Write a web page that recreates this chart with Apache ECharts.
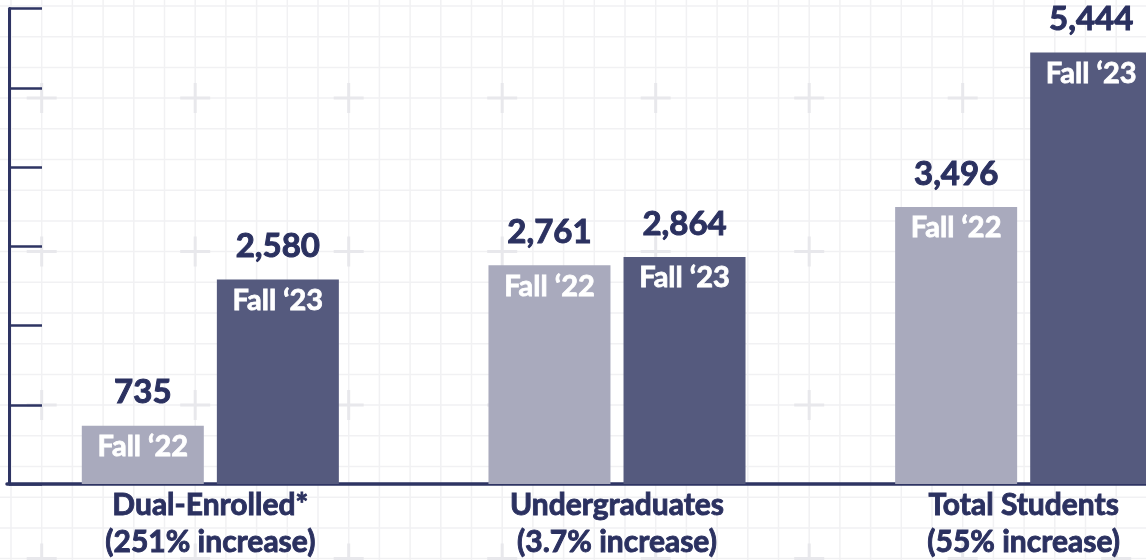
<!DOCTYPE html>
<html>
<head>
<meta charset="utf-8">
<script src="https://cdn.jsdelivr.net/npm/echarts@6/dist/echarts.min.js"></script>
<style>
  html, body { margin: 0; padding: 0; background: #fff; }
  #chart { width: 1146px; height: 560px; }
</style>
</head>
<body>
<div id="chart"></div>
<script>
const categories = ["Dual-Enrolled*", "Undergraduates", "Total Students"];
const increaseNotes = ["(251% increase)", "(3.7% increase)", "(55% increase)"];
const seriesNames = ["Fall \u201822", "Fall \u201823"];
const fall22 = [735, 2761, 3496];
const fall23 = [2580, 2864, 5444];
const yTicks = { min: 0, max: 6000, interval: 1000 };

const navy = "#2b3160";

// faint graph-paper background with plus marks
const makeBackground = () => {
  const c = document.createElement("canvas");
  c.width = 1146;
  c.height = 560;
  const ctx = c.getContext("2d");
  ctx.fillStyle = "#fff";
  ctx.fillRect(0, 0, c.width, c.height);
  const step = 30.7;
  const ox = 41.7 - step * 2, oy = 98.1 - step * 3;
  ctx.strokeStyle = "#f1f1f3";
  ctx.lineWidth = 1.5;
  for (let x = ox; x < c.width; x += step) {
    ctx.beginPath(); ctx.moveTo(x, 0); ctx.lineTo(x, c.height); ctx.stroke();
  }
  for (let y = oy; y < c.height; y += step) {
    ctx.beginPath(); ctx.moveTo(0, y); ctx.lineTo(c.width, y); ctx.stroke();
  }
  ctx.strokeStyle = "#e8e8ec";
  ctx.lineWidth = 3;
  for (let x = 41.7; x < c.width + 20; x += step * 5) {
    for (let y = 98.1 - step * 5; y < c.height + 20; y += step * 5) {
      ctx.beginPath();
      ctx.moveTo(x - 15, y); ctx.lineTo(x + 15, y);
      ctx.moveTo(x, y - 15); ctx.lineTo(x, y + 15);
      ctx.stroke();
    }
  }
  return c;
};

const fmt = (v) => v.toLocaleString("en-US");

// thin outline in the text colour to get closer to the heavy original face
const barLabel = {
  show: true,
  position: "insideTop",
  distance: 5,
  offset: [0, -77],
  formatter: (p) => "{v|" + fmt(p.value) + "}\n{f|" + p.seriesName + "}",
  rich: {
    v: {
      fontFamily: "Lato", fontWeight: "bold", fontSize: 33, color: navy, lineHeight: 78,
      textBorderColor: navy, textBorderWidth: 1,
    },
    f: {
      fontFamily: "Lato", fontWeight: "bold", fontSize: 29, color: "#fff", lineHeight: 30,
      textBorderColor: "#fff", textBorderWidth: 0.8,
    },
  },
};

const chart = echarts.init(document.getElementById("chart"));
chart.setOption({
  animation: false,
  backgroundColor: { image: makeBackground(), repeat: "no-repeat" },
  // the last group runs off the right edge in the original
  grid: { left: 7, right: -81, top: 8.5, bottom: 76, outerBoundsMode: "none", containLabel: false },
  xAxis: {
    type: "category",
    data: categories,
    axisLine: { show: true, lineStyle: { color: "#2e3463", width: 3.5 } },
    axisTick: { show: false },
    axisLabel: {
      margin: 3,
      interval: 0,
      fontFamily: "Lato",
      fontWeight: "bold",
      fontSize: 30,
      lineHeight: 37,
      color: navy,
      textBorderColor: navy,
      textBorderWidth: 0.9,
      formatter: (v, i) => v + "\n" + increaseNotes[i],
    },
  },
  yAxis: {
    type: "value",
    min: yTicks.min,
    max: yTicks.max,
    interval: yTicks.interval,
    offset: -2,
    axisLine: { show: true, lineStyle: { color: "#2e3463", width: 3 } },
    axisTick: { show: true, inside: true, length: 33, lineStyle: { color: "#2e3463", width: 2.5 } },
    axisLabel: { show: false },
    splitLine: { show: false },
  },
  series: [
    {
      name: seriesNames[0],
      type: "bar",
      data: fall22,
      barWidth: 122,
      barGap: "10.7%",
      itemStyle: { color: "#a9aabd" },
      label: barLabel,
    },
    {
      name: seriesNames[1],
      type: "bar",
      data: fall23,
      barWidth: 122,
      barGap: "10.7%",
      itemStyle: { color: "#555a7e" },
      label: barLabel,
    },
  ],
});
</script>
</body>
</html>
